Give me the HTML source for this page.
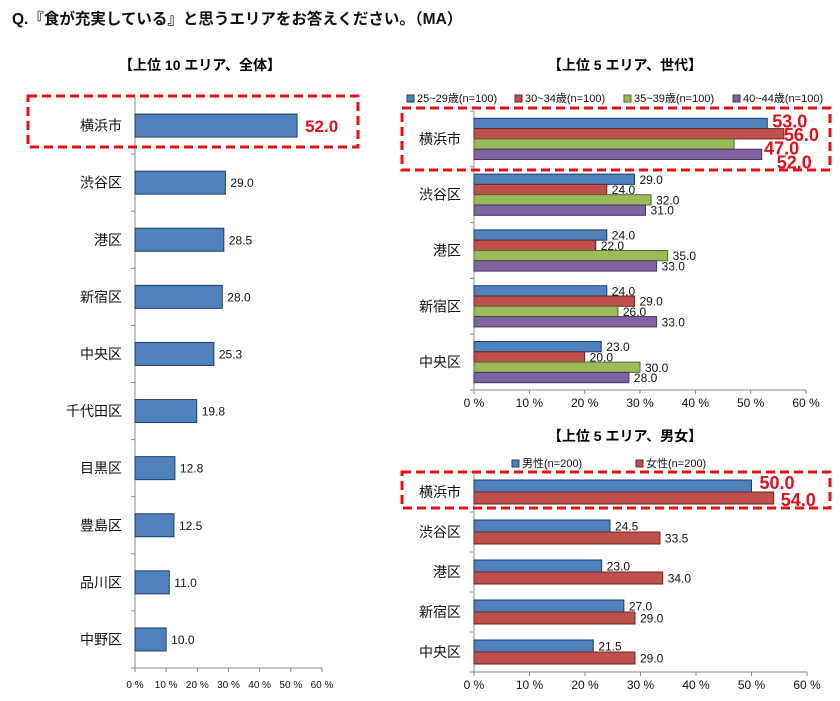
<!DOCTYPE html>
<html><head><meta charset="utf-8">
<style>
body{margin:0;background:#fff;}
svg{display:block;font-family:"Liberation Sans","Noto Sans CJK JP",sans-serif;}
</style></head>
<body>
<svg id="c" width="840" height="701" viewBox="0 0 840 701" xmlns="http://www.w3.org/2000/svg">
<text x="12" y="24" font-size="15.5" font-weight="bold" fill="#111">Q.『食が充実している』と思うエリアをお答えください。（MA）</text>
<text x="200" y="70" font-size="14" font-weight="bold" text-anchor="middle">【上位 10 エリア、全体】</text>
<text x="625" y="70" font-size="14" font-weight="bold" text-anchor="middle">【上位 5 エリア、世代】</text>
<text x="625" y="441" font-size="14" font-weight="bold" text-anchor="middle">【上位 5 エリア、男女】</text>
<g id="g1"></g><g id="g2"></g><g id="g3"></g>
<rect x="28" y="96" width="330" height="51" fill="none" stroke="#e81010" stroke-width="3" stroke-dasharray="9,5"/>
<rect x="402" y="108" width="428" height="62" fill="none" stroke="#e81010" stroke-width="3" stroke-dasharray="9,5"/>
<rect x="402" y="472" width="428" height="36" fill="none" stroke="#e81010" stroke-width="3" stroke-dasharray="9,5"/>
</svg>
<script>
const totalCats=["横浜市","渋谷区","港区","新宿区","中央区","千代田区","目黒区","豊島区","品川区","中野区"];
const totalVals=[52.0,29.0,28.5,28.0,25.3,19.8,12.8,12.5,11.0,10.0];
const areaCats=["横浜市","渋谷区","港区","新宿区","中央区"];
const ageNames=["25~29歳(n=100)","30~34歳(n=100)","35~39歳(n=100)","40~44歳(n=100)"];
const age25=[53.0,29.0,24.0,24.0,23.0];
const age30=[56.0,24.0,22.0,29.0,20.0];
const age35=[47.0,32.0,35.0,26.0,30.0];
const age40=[52.0,31.0,33.0,33.0,28.0];
const genderNames=["男性(n=200)","女性(n=200)"];
const male=[50.0,24.5,23.0,27.0,21.5];
const female=[54.0,33.5,34.0,29.0,29.0];
const ticks=[0,10,20,30,40,50,60];
const colors=["#4f81bd","#c0504d","#9bbb59","#8064a2"];
const strokes=["#1f3d66","#6b2321","#566b2c","#46345e"];
const NS="http://www.w3.org/2000/svg";
function mk(parent,tag,attrs,txt){const e=document.createElementNS(NS,tag);for(const k in attrs)e.setAttribute(k,attrs[k]);if(txt!==undefined)e.textContent=txt;parent.appendChild(e);return e;}

function chart(g,o){
  const xs=v=>o.x0+v*(o.x1-o.x0)/60;
  const n=o.cats.length, step=(o.y1-o.y0)/n;
  let a=mk(g,'line',{x1:o.x0,y1:o.y0,x2:o.x0,y2:o.y1,stroke:'#888'});
  
  
  a=mk(g,'line',{x1:o.x0,y1:o.y1,x2:o.x1,y2:o.y1,stroke:'#888'});
  
  
  for(let i=0;i<=n;i++){mk(g,'line',{x1:o.x0-4,y1:o.y0+i*step,x2:o.x0,y2:o.y0+i*step,stroke:'#888'});}
  ticks.forEach(t=>{
    mk(g,'line',{x1:xs(t),y1:o.y1,x2:xs(t),y2:o.y1+4,stroke:'#888'});
    const tl=mk(g,'text',{x:xs(t),y:o.y1+o.tickDy,'font-size':o.tickFs,'text-anchor':'middle',fill:'#111'},t+' %');
    
    
  });
  o.cats.forEach((c,i)=>{
    const cy=o.y0+(i+0.5)*step;
    const cl=mk(g,'text',{x:o.x0-13,y:cy+5,'font-size':14,'text-anchor':'end',fill:'#111'},c);
    
    
    const k=o.series.length, top=cy-k*o.bh/2;
    o.series.forEach((s,j)=>{
      const v=s[i], y=top+j*o.bh;
      const r=mk(g,'rect',{x:o.x0,y:y,width:xs(v)-o.x0,height:o.bh,fill:colors[j],stroke:strokes[j],'stroke-width':1});
      
      
      const big=(i===0);
      let lx,ly;
      if(big){lx=xs(v)+o.bigDx[j]; ly=top+o.bigY0+j*o.bigStep;}
      else{lx=xs(v)+5; ly=y+o.bh/2+4.5;}
      const lb=mk(g,'text',{x:lx,y:ly,'font-size':big?o.bigFs:12,'font-weight':big?'bold':'normal',fill:big?'#e0101a':'#111'},v.toFixed(1));
      
      
    });
  });
  if(o.legend){
    o.legend.forEach((nm,j)=>{
      const lx=o.legendX[j];
      const sw=mk(g,'rect',{x:lx,y:o.legendY-7,width:7,height:7,fill:colors[j],stroke:strokes[j]});
      
      
      const lt=mk(g,'text',{x:lx+10,y:o.legendY,'font-size':11,fill:'#111'},nm);
      
      
    });
  }
}
chart(document.getElementById('g1'),{cats:totalCats,series:[totalVals],x0:135,x1:322,y0:97,y1:668,bh:23,tickDy:20,tickFs:10,bigDx:[8],bigY0:18,bigStep:0,bigFs:17});
chart(document.getElementById('g2'),{cats:areaCats,series:[age25,age30,age35,age40],x0:474,x1:806,y0:111,y1:390,bh:10.3,tickDy:17,tickFs:12,bigDx:[5,0,30,15],bigY0:9,bigStep:13.7,bigFs:18,legend:ageNames,legendX:[407,515,624,733],legendY:102});
chart(document.getElementById('g3'),{cats:areaCats,series:[male,female],x0:474,x1:807,y0:472,y1:672,bh:12,tickDy:17,tickFs:12,bigDx:[8,7],bigY0:9,bigStep:17,bigFs:18,legend:genderNames,legendX:[512,636],legendY:467});
</script>
</body></html>
